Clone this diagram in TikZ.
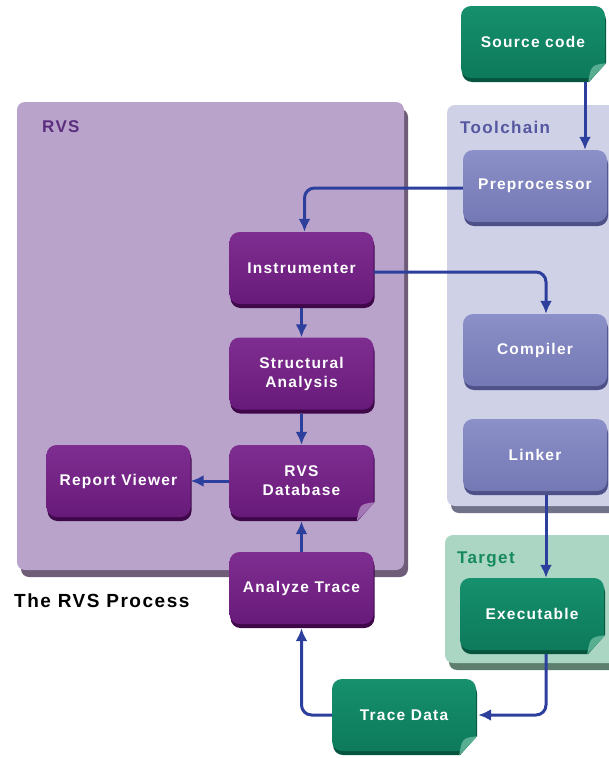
\documentclass[tikz,border=0pt]{standalone}
\usepackage{fontspec}
\setmainfont[LetterSpace=8]{Liberation Sans}
\usepackage{tikz}
\usetikzlibrary{arrows.meta,shadows}

\definecolor{rvsbg}{HTML}{B9A3CB}
\definecolor{rvsedge}{HTML}{6E5C78}
\definecolor{toolbg}{HTML}{CFD1E7}
\definecolor{tooledge}{HTML}{70728A}
\definecolor{tgtbg}{HTML}{AAD6C3}
\definecolor{tgtedge}{HTML}{5E7F70}
\definecolor{purp}{HTML}{681A7A}
\definecolor{purplite}{HTML}{7E2E90}
\definecolor{purpdark}{HTML}{3E0849}
\definecolor{purpcurl}{HTML}{A277B4}
\definecolor{peri}{HTML}{7478B4}
\definecolor{perilite}{HTML}{8C90C8}
\definecolor{peridark}{HTML}{4E5188}
\definecolor{grn}{HTML}{0D7A5B}
\definecolor{grnlite}{HTML}{16906D}
\definecolor{grndark}{HTML}{08553F}
\definecolor{grncurl}{HTML}{58AE90}
\definecolor{arrowblue}{HTML}{2C3F9C}
\definecolor{rvstitle}{HTML}{5B2D7E}
\definecolor{tooltitle}{HTML}{5557A0}
\definecolor{tgttitle}{HTML}{15895F}

\newcommand{\Fold}[3]{%
  \fill[#2] ([xshift=-17pt,yshift=-5pt]#1.south east) -- ([xshift=2pt,yshift=-5pt]#1.south east)
    -- ([xshift=2pt,yshift=16pt]#1.south east) -- cycle;
  \fill[#3] ([xshift=-17pt,yshift=-4pt]#1.south east) .. controls ([xshift=-14pt,yshift=13pt]#1.south east)
    .. ([xshift=1pt,yshift=15pt]#1.south east) -- cycle;}

\begin{document}
\begin{tikzpicture}[x=1pt,y=-1pt,
    panel/.style={rounded corners=8pt, inner sep=0pt},
    box/.style={rounded corners=10pt, minimum width=144pt, minimum height=72pt, inner sep=0pt,
      align=center, text=white, font=\fontsize{15.5}{19}\selectfont\bfseries},
    purpbox/.style={box, top color=purplite, bottom color=purp,
      drop shadow={shadow xshift=1pt, shadow yshift=-4pt, fill=purpdark, opacity=1}},
    peribox/.style={box, top color=perilite, bottom color=peri,
      drop shadow={shadow xshift=1pt, shadow yshift=-4pt, fill=peridark, opacity=1}},
    grnbox/.style={box, top color=grnlite, bottom color=grn,
      drop shadow={shadow xshift=1pt, shadow yshift=-4pt, fill=grndark, opacity=1}},
    title/.style={anchor=west, inner sep=0pt, font=\fontsize{17}{20}\selectfont\bfseries},
    conn/.style={draw=arrowblue, line width=3pt, rounded corners=10pt,
      -{Latex[length=13pt,width=12pt]}}
  ]
    \useasboundingbox (0,0) rectangle (609,758);
    \clip (0,0) rectangle (609,758);

    \node[panel, fill=rvsbg, minimum width=387pt, minimum height=468pt,
      drop shadow={shadow xshift=4pt, shadow yshift=-7pt, fill=rvsedge, opacity=1}] (rvs) at (210.5,336) {};
    \node[panel, fill=toolbg, minimum width=170pt, minimum height=401pt,
      drop shadow={shadow xshift=4pt, shadow yshift=-7pt, fill=tooledge, opacity=1}] (tool) at (532,305.5) {};
    \node[panel, fill=tgtbg, minimum width=172pt, minimum height=128pt,
      drop shadow={shadow xshift=4pt, shadow yshift=-7pt, fill=tgtedge, opacity=1}] (tgt) at (531,599) {};

    \node[title, text=rvstitle] (rvslbl) at (42,127) {RVS};
    \node[title, text=tooltitle] (toollbl) at (460,127) {Toolchain};
    \node[title, text=tgttitle] (tgtlbl) at (457,559) {Target};
    \node[title, font=\fontsize{19}{22}\selectfont\bfseries] (caption) at (14,601) {The RVS Process};

    \node[grnbox] (src) at (533,42) {Source code};
    \node[peribox] (pre) at (535,186) {Preprocessor};
    \node[peribox] (comp) at (535,350) {Compiler};
    \node[peribox] (lnk) at (535,455) {Linker};
    \node[grnbox] (exe) at (532,614) {Executable};
    \node[purpbox] (inst) at (301.5,268) {Instrumenter};
    \node[purpbox] (sa) at (301.5,373.5) {Structural\\Analysis};
    \node[purpbox] (db) at (301.5,481) {RVS\\Database};
    \node[purpbox] (rv) at (118.5,481) {Report Viewer};
    \node[purpbox] (at) at (301.5,588) {Analyze Trace};
    \node[grnbox] (td) at (404,715) {Trace Data};

    \Fold{src}{white}{grncurl}
    \Fold{db}{rvsbg}{purpcurl}
    \Fold{exe}{tgtbg}{grncurl}
    \Fold{td}{white}{grncurl}

    \draw[conn] ([xshift=52pt,yshift=-4pt]src.south) -- ([xshift=50pt]pre.north);
    \draw[conn] ([yshift=-2pt]pre.west) -| ([xshift=3pt]inst.north);
    \draw[conn] ([yshift=-4pt]inst.east) -| ([xshift=11pt]comp.north);
    \draw[conn] ([yshift=-4pt]inst.south) -- (sa.north);
    \draw[conn] ([yshift=-4pt]sa.south) -- (db.north);
    \draw[conn] (db.west) -- (rv.east);
    \draw[conn] (at.north) -- ([yshift=-4pt]db.south);
    \draw[conn] ([xshift=11pt,yshift=-4pt]lnk.south) -- ([xshift=14pt]exe.north);
    \draw[conn] ([xshift=14pt,yshift=-4pt]exe.south) |- ([xshift=2pt]td.east);
    \draw[conn] (td.west) -| ([yshift=-4pt]at.south);
\end{tikzpicture}
\end{document}
